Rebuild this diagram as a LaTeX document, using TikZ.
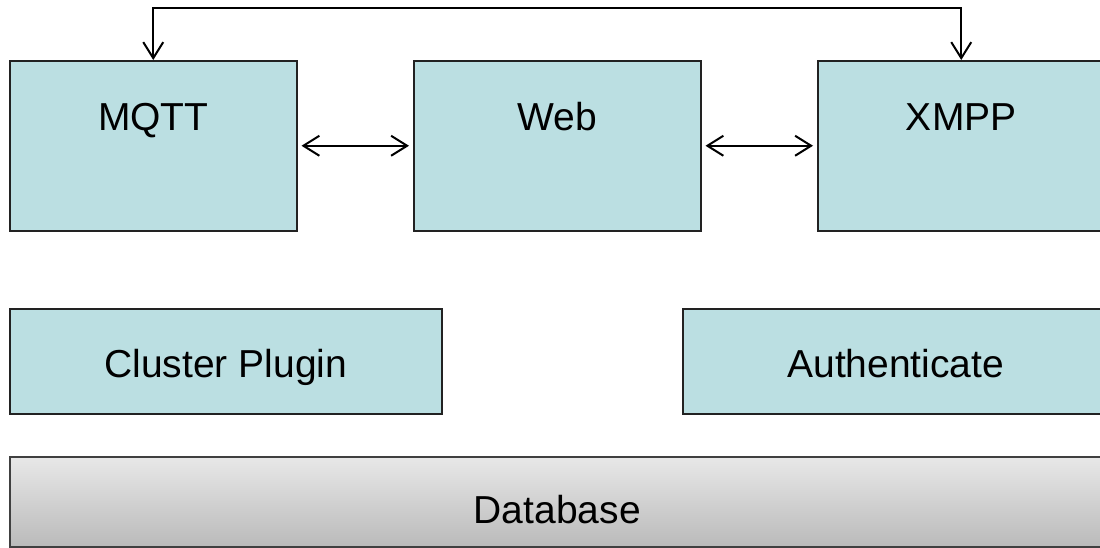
\documentclass[tikz,border=0pt]{standalone}
\usepackage{fontspec}
\setmainfont{Liberation Sans}
\usetikzlibrary{arrows.meta}
\definecolor{boxfill}{HTML}{BBDFE2}
\definecolor{boxline}{HTML}{222222}
\tikzset{
  compbox/.style={draw=boxline, line width=1.5pt, fill=boxfill, inner sep=0pt, font=\fontsize{39}{44}\selectfont},
  topbox/.style={compbox, minimum width=287pt, text height=70pt, text depth=100pt},
  midbox/.style={compbox, text height=69pt, text depth=36pt},
  conn/.style={line width=2pt, {Straight Barb[length=16pt,width=20pt]}-{Straight Barb[length=16pt,width=20pt]}},
}
\begin{document}
\begin{tikzpicture}[x=1pt,y=-1pt]
\useasboundingbox (0,0) rectangle (1100,547);
\clip (0,0) rectangle (1100,547);
\node[topbox, anchor=north west] (mqtt) at (9,60) {MQTT};
\node[topbox, anchor=north west] (web) at (413,60) {Web};
\node[topbox, anchor=north west] (xmpp) at (817,60) {XMPP};
\node[midbox, minimum width=432pt, anchor=north west] (cluster) at (9,308) {Cluster Plugin};
\node[midbox, minimum width=426pt, anchor=north west] (auth) at (682,308) {Authenticate};
\node[draw=black!75, line width=1.5pt, top color=black!9, bottom color=black!27, inner sep=0pt,
      minimum width=1095pt, text height=67pt, text depth=23pt, anchor=north west,
      font=\fontsize{39}{44}\selectfont] (db) at (9,456) {Database};
\coordinate (top) at (550,8);
\draw[conn] ([xshift=4pt]mqtt.east) -- ([xshift=-4pt]web.west);
\draw[conn] ([xshift=4pt]web.east) -- ([xshift=-4pt]xmpp.west);
\draw[conn] (mqtt.north) |- (top) -| (xmpp.north);
\end{tikzpicture}
\end{document}
